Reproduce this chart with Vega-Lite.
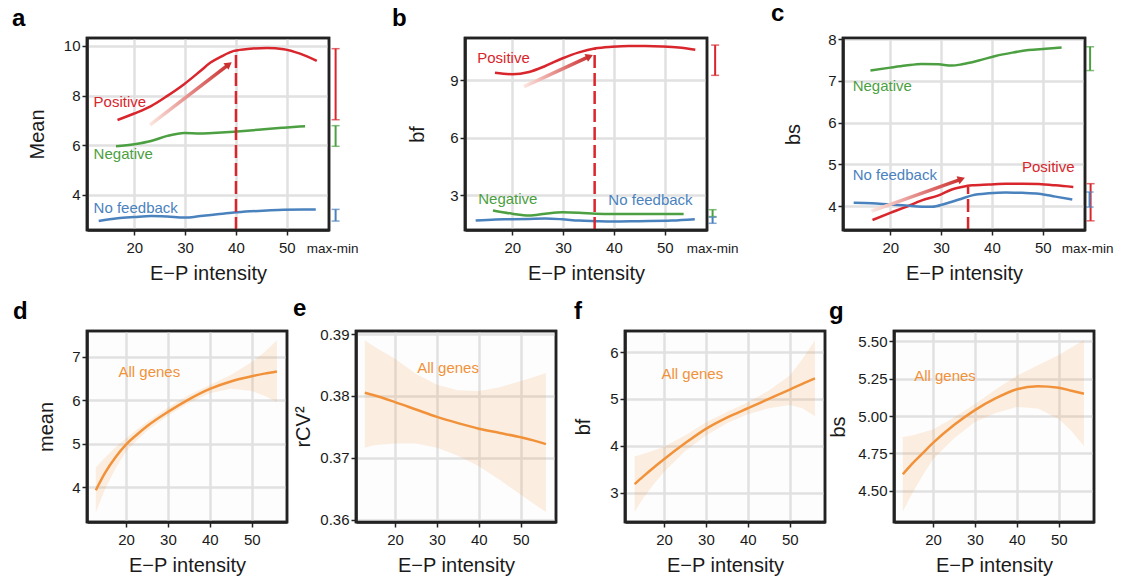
{
  "$schema": "https://vega.github.io/schema/vega-lite/v6.json",
  "padding": {"left": 10, "top": 1, "right": 0, "bottom": 0},
  "background": "white",
  "config": {
    "font": "Liberation Sans",
    "view": {"stroke": "#222222", "strokeWidth": 2.5},
    "axis": {
      "domain": true,
      "domainColor": "#222222",
      "domainWidth": 2.5,
      "grid": true,
      "gridColor": "#E1E1E1",
      "gridWidth": 2.5,
      "ticks": true,
      "tickColor": "#222222",
      "tickWidth": 1.5,
      "tickSize": 5,
      "labelFontSize": 15,
      "labelColor": "#1a1a1a",
      "labelPadding": 5,
      "titleFontSize": 20,
      "titleFontWeight": "normal",
      "titleColor": "#1a1a1a"
    },
    "axisX": {"titlePadding": 8, "labelFlush": false},
    "axisY": {"labelPadding": 2, "titleBaseline": "middle"},
    "title": {"fontSize": 24, "fontWeight": "bold", "anchor": "start", "frame": "group", "baseline": "alphabetic", "offset": 6, "color": "#000000"},
    "text": {"fontSize": 15, "align": "left", "baseline": "middle"}
  },
  "datasets": {
    "a_frame": [{"x1":10.7,"x2":58.3,"y1":2.59,"y2":10.32}],
    "b_frame": [{"x1":10.7,"x2":58.3,"y1":1.19,"y2":11.21}],
    "c_frame": [{"x1":10.7,"x2":58.3,"y1":3.43,"y2":8.03}],
    "d_frame": [{"x1":10.7,"x2":58.4,"y1":3.2,"y2":7.59}],
    "e_frame": [{"x1":10.7,"x2":58.4,"y1":0.3596,"y2":0.3905}],
    "f_frame": [{"x1":10.7,"x2":58.4,"y1":2.37,"y2":6.45}],
    "g_frame": [{"x1":10.7,"x2":58.4,"y1":4.29,"y2":5.57}],
    "a_lines": [
      {"x":16.7,"y":7.02,"g":"Positive"},{"x":20,"y":7.28,"g":"Positive"},{"x":23.3,"y":7.58,"g":"Positive"},{"x":26.5,"y":7.99,"g":"Positive"},{"x":29.8,"y":8.46,"g":"Positive"},{"x":33,"y":8.99,"g":"Positive"},{"x":35,"y":9.33,"g":"Positive"},{"x":37,"y":9.56,"g":"Positive"},{"x":39.6,"y":9.8,"g":"Positive"},{"x":42.8,"y":9.89,"g":"Positive"},{"x":46.1,"y":9.92,"g":"Positive"},{"x":49.4,"y":9.87,"g":"Positive"},{"x":52.6,"y":9.69,"g":"Positive"},{"x":55.9,"y":9.4,"g":"Positive"},
      {"x":16.4,"y":5.96,"g":"Negative"},{"x":20,"y":6.04,"g":"Negative"},{"x":23.3,"y":6.17,"g":"Negative"},{"x":26.5,"y":6.38,"g":"Negative"},{"x":29.8,"y":6.5,"g":"Negative"},{"x":33,"y":6.48,"g":"Negative"},{"x":36.3,"y":6.51,"g":"Negative"},{"x":39.6,"y":6.55,"g":"Negative"},{"x":42.8,"y":6.6,"g":"Negative"},{"x":46.1,"y":6.66,"g":"Negative"},{"x":49.4,"y":6.71,"g":"Negative"},{"x":53.6,"y":6.77,"g":"Negative"},
      {"x":13,"y":2.95,"g":"No feedback"},{"x":16.7,"y":3.06,"g":"No feedback"},{"x":20,"y":3.11,"g":"No feedback"},{"x":23.3,"y":3.15,"g":"No feedback"},{"x":26.5,"y":3.13,"g":"No feedback"},{"x":29.8,"y":3.09,"g":"No feedback"},{"x":33,"y":3.15,"g":"No feedback"},{"x":36.3,"y":3.22,"g":"No feedback"},{"x":39.6,"y":3.29,"g":"No feedback"},{"x":42.8,"y":3.34,"g":"No feedback"},{"x":46.1,"y":3.38,"g":"No feedback"},{"x":49.4,"y":3.41,"g":"No feedback"},{"x":55.7,"y":3.42,"g":"No feedback"}
    ],
    "a_text": [
      {"x":12,"y":7.74,"label":"Positive","g":"Positive"},
      {"x":12,"y":5.64,"label":"Negative","g":"Negative"},
      {"x":12,"y":3.49,"label":"No feedback","g":"No feedback"}
    ],
    "a_rng": [
      {"x":59.6,"lo":7.03,"hi":9.89,"g":"Positive"},
      {"x":59.6,"lo":5.96,"hi":6.79,"g":"Negative"},
      {"x":59.6,"lo":2.95,"hi":3.42,"g":"No feedback"}
    ],
    "a_dash": [{"x":40,"y1":2.59,"y2":9.83}],
    "a_arrow": [{"x":23.1,"y":6.82},{"x":38.6,"y":9.26}],
    "a_head": [{"x":38.6,"y":9.26}],
    "a_mm": [{"x":59,"y":2.59,"label":"max-min"}],

    "b_lines": [
      {"x":16.6,"y":9.4,"g":"Positive"},{"x":20,"y":9.32,"g":"Positive"},{"x":23.3,"y":9.44,"g":"Positive"},{"x":26.5,"y":9.75,"g":"Positive"},{"x":29.8,"y":10.14,"g":"Positive"},{"x":33.1,"y":10.46,"g":"Positive"},{"x":36.4,"y":10.67,"g":"Positive"},{"x":39.6,"y":10.75,"g":"Positive"},{"x":42.9,"y":10.79,"g":"Positive"},{"x":46.2,"y":10.79,"g":"Positive"},{"x":49.5,"y":10.77,"g":"Positive"},{"x":52.7,"y":10.72,"g":"Positive"},{"x":56,"y":10.6,"g":"Positive"},
      {"x":16.2,"y":2.21,"g":"Negative"},{"x":20,"y":2.04,"g":"Negative"},{"x":23.3,"y":1.95,"g":"Negative"},{"x":26.5,"y":2.04,"g":"Negative"},{"x":29.8,"y":2.11,"g":"Negative"},{"x":33.1,"y":2.09,"g":"Negative"},{"x":36.4,"y":2.04,"g":"Negative"},{"x":39.6,"y":2.02,"g":"Negative"},{"x":44.9,"y":2.02,"g":"Negative"},{"x":53.7,"y":2.02,"g":"Negative"},
      {"x":12.8,"y":1.68,"g":"No feedback"},{"x":16.7,"y":1.74,"g":"No feedback"},{"x":20,"y":1.75,"g":"No feedback"},{"x":23.3,"y":1.77,"g":"No feedback"},{"x":26.5,"y":1.79,"g":"No feedback"},{"x":29.8,"y":1.75,"g":"No feedback"},{"x":33.1,"y":1.68,"g":"No feedback"},{"x":36.4,"y":1.65,"g":"No feedback"},{"x":39.6,"y":1.63,"g":"No feedback"},{"x":44.9,"y":1.65,"g":"No feedback"},{"x":51.4,"y":1.68,"g":"No feedback"},{"x":55.9,"y":1.75,"g":"No feedback"}
    ],
    "b_text": [
      {"x":13.1,"y":10.19,"label":"Positive","g":"Positive"},
      {"x":13.3,"y":2.82,"label":"Negative","g":"Negative"},
      {"x":38.9,"y":2.74,"label":"No feedback","g":"No feedback"}
    ],
    "b_rng": [
      {"x":59.9,"lo":9.26,"hi":10.84,"g":"Positive"},
      {"x":59.4,"lo":1.89,"hi":2.25,"g":"Negative"},
      {"x":59.4,"lo":1.54,"hi":1.86,"g":"No feedback"}
    ],
    "b_dash": [{"x":36.2,"y1":1.19,"y2":10.67}],
    "b_arrow": [{"x":22.3,"y":8.67},{"x":35.2,"y":10.25}],
    "b_head": [{"x":35.2,"y":10.25}],
    "b_mm": [{"x":59.4,"y":1.19,"label":"max-min"}],

    "c_lines": [
      {"x":16.1,"y":7.25,"g":"Negative"},{"x":20,"y":7.32,"g":"Negative"},{"x":23,"y":7.37,"g":"Negative"},{"x":26.2,"y":7.41,"g":"Negative"},{"x":29.5,"y":7.4,"g":"Negative"},{"x":32.1,"y":7.37,"g":"Negative"},{"x":34.1,"y":7.4,"g":"Negative"},{"x":37.4,"y":7.49,"g":"Negative"},{"x":40.7,"y":7.6,"g":"Negative"},{"x":44,"y":7.68,"g":"Negative"},{"x":47.2,"y":7.74,"g":"Negative"},{"x":50.5,"y":7.77,"g":"Negative"},{"x":53.7,"y":7.8,"g":"Negative"},
      {"x":16.5,"y":3.67,"g":"Positive"},{"x":20,"y":3.84,"g":"Positive"},{"x":23,"y":3.98,"g":"Positive"},{"x":26.2,"y":4.14,"g":"Positive"},{"x":29.5,"y":4.26,"g":"Positive"},{"x":32.1,"y":4.4,"g":"Positive"},{"x":34.1,"y":4.46,"g":"Positive"},{"x":36.1,"y":4.5,"g":"Positive"},{"x":39.4,"y":4.52,"g":"Positive"},{"x":42.7,"y":4.54,"g":"Positive"},{"x":46,"y":4.54,"g":"Positive"},{"x":49.2,"y":4.53,"g":"Positive"},{"x":52.5,"y":4.5,"g":"Positive"},{"x":56,"y":4.46,"g":"Positive"},
      {"x":12.8,"y":4.08,"g":"No feedback"},{"x":16.4,"y":4.07,"g":"No feedback"},{"x":20,"y":4.04,"g":"No feedback"},{"x":23,"y":4.02,"g":"No feedback"},{"x":26.2,"y":3.99,"g":"No feedback"},{"x":28.2,"y":3.99,"g":"No feedback"},{"x":30.8,"y":4.06,"g":"No feedback"},{"x":33.5,"y":4.16,"g":"No feedback"},{"x":36.1,"y":4.26,"g":"No feedback"},{"x":39.4,"y":4.31,"g":"No feedback"},{"x":42.7,"y":4.33,"g":"No feedback"},{"x":45.9,"y":4.32,"g":"No feedback"},{"x":49.2,"y":4.3,"g":"No feedback"},{"x":52.5,"y":4.23,"g":"No feedback"},{"x":55.8,"y":4.16,"g":"No feedback"}
    ],
    "c_text": [
      {"x":12.6,"y":6.89,"label":"Negative","g":"Negative"},
      {"x":12.6,"y":4.74,"label":"No feedback","g":"No feedback"},
      {"x":45.9,"y":4.94,"label":"Positive","g":"Positive"}
    ],
    "c_rng": [
      {"x":59.3,"lo":7.25,"hi":7.82,"g":"Negative"},
      {"x":59.4,"lo":3.65,"hi":4.54,"g":"Positive"},
      {"x":59.2,"lo":3.98,"hi":4.34,"g":"No feedback"}
    ],
    "c_dash": [{"x":35.3,"y1":3.43,"y2":4.46}],
    "c_arrow": [{"x":16.3,"y":3.88},{"x":34.0,"y":4.65}],
    "c_head": [{"x":34.0,"y":4.65}],
    "c_mm": [{"x":58.8,"y":3.43,"label":"max-min"}],

    "d_fit": [
      {"x":12.8,"y":3.93,"lo":3.42,"hi":4.45},{"x":15,"y":4.33,"lo":3.95,"hi":4.68},{"x":17.5,"y":4.69,"lo":4.43,"hi":4.92},{"x":20,"y":4.98,"lo":4.82,"hi":5.12},{"x":22.5,"y":5.2,"lo":5.07,"hi":5.32},{"x":25,"y":5.4,"lo":5.3,"hi":5.5},{"x":30,"y":5.73,"lo":5.64,"hi":5.83},{"x":35,"y":6.02,"lo":5.94,"hi":6.12},{"x":40,"y":6.26,"lo":6.16,"hi":6.35},{"x":45,"y":6.43,"lo":6.26,"hi":6.58},{"x":50,"y":6.55,"lo":6.21,"hi":6.88},{"x":53,"y":6.61,"lo":6.1,"hi":7.1},{"x":56,"y":6.66,"lo":5.96,"hi":7.38}
    ],
    "d_text": [{"x":18.2,"y":6.65,"label":"All genes"}],
    "e_fit": [
      {"x":12.8,"y":0.3805,"lo":0.3716,"hi":0.389},{"x":15,"y":0.3801,"lo":0.372,"hi":0.388},{"x":20,"y":0.379,"lo":0.3723,"hi":0.386},{"x":25,"y":0.3778,"lo":0.3723,"hi":0.3836},{"x":30,"y":0.3766,"lo":0.3716,"hi":0.3818},{"x":35,"y":0.3756,"lo":0.3703,"hi":0.3809},{"x":40,"y":0.3747,"lo":0.3686,"hi":0.3808},{"x":45,"y":0.374,"lo":0.3664,"hi":0.3814},{"x":50,"y":0.3733,"lo":0.364,"hi":0.3824},{"x":53,"y":0.3728,"lo":0.3626,"hi":0.383},{"x":56,"y":0.3722,"lo":0.3612,"hi":0.3837}
    ],
    "e_text": [{"x":25.3,"y":0.3845,"label":"All genes"}],
    "f_fit": [
      {"x":13,"y":3.18,"lo":2.59,"hi":3.77},{"x":15,"y":3.34,"lo":2.87,"hi":3.82},{"x":17.5,"y":3.53,"lo":3.17,"hi":3.9},{"x":20,"y":3.71,"lo":3.44,"hi":3.98},{"x":25,"y":4.05,"lo":3.88,"hi":4.22},{"x":30,"y":4.36,"lo":4.22,"hi":4.5},{"x":35,"y":4.6,"lo":4.48,"hi":4.72},{"x":40,"y":4.8,"lo":4.67,"hi":4.93},{"x":45,"y":5.0,"lo":4.8,"hi":5.18},{"x":50,"y":5.2,"lo":4.87,"hi":5.5},{"x":53,"y":5.32,"lo":4.8,"hi":5.85},{"x":56,"y":5.44,"lo":4.63,"hi":6.25}
    ],
    "f_text": [{"x":19.4,"y":5.53,"label":"All genes"}],
    "g_fit": [
      {"x":12.8,"y":4.61,"lo":4.36,"hi":4.86},{"x":15,"y":4.68,"lo":4.48,"hi":4.87},{"x":17.5,"y":4.75,"lo":4.6,"hi":4.89},{"x":20,"y":4.82,"lo":4.71,"hi":4.91},{"x":25,"y":4.94,"lo":4.85,"hi":4.99},{"x":30,"y":5.04,"lo":4.96,"hi":5.08},{"x":35,"y":5.12,"lo":5.02,"hi":5.18},{"x":40,"y":5.18,"lo":5.06,"hi":5.27},{"x":45,"y":5.2,"lo":5.05,"hi":5.34},{"x":50,"y":5.19,"lo":4.98,"hi":5.41},{"x":53,"y":5.17,"lo":4.9,"hi":5.46},{"x":56,"y":5.15,"lo":4.8,"hi":5.51}
    ],
    "g_text": [{"x":15.5,"y":5.27,"label":"All genes"}]
  },
  "vconcat": [
    {
      "hconcat": [
        {
          "width": 242, "height": 192,
          "title": {"text": "a", "dx": -75},
          "layer": [
            {"data": {"name": "a_lines"}, "mark": {"type": "line", "strokeWidth": 2.5, "interpolate": "monotone"},
             "encoding": {
               "x": {"field": "x", "type": "quantitative", "scale": {"domain": [10.7, 58.3], "nice": false, "zero": false}, "axis": {"title": "E−P intensity", "values": [20, 30, 40, 50]}},
               "y": {"field": "y", "type": "quantitative", "scale": {"domain": [2.59, 10.32], "nice": false, "zero": false}, "axis": {"title": "Mean", "values": [4, 6, 8, 10], "titleX": -50}},
               "color": {"field": "g", "type": "nominal", "scale": {"domain": ["Positive", "Negative", "No feedback"], "range": ["#D8262C", "#4CA042", "#4A82BE"]}, "legend": null}}},
            {"data": {"name": "a_dash"}, "mark": {"type": "rule", "color": "#D8262C", "strokeWidth": 2.5, "strokeDash": [13, 5]},
             "encoding": {"x": {"field": "x", "type": "quantitative"}, "y": {"field": "y1", "type": "quantitative"}, "y2": {"field": "y2"}}},
            {"data": {"name": "a_arrow"}, "mark": {"type": "line", "strokeWidth": 3.5, "stroke": {"gradient": "linear", "x1": 0, "y1": 0, "x2": 1, "y2": 0, "stops": [{"offset": 0, "color": "#FCE6E0"}, {"offset": 1, "color": "#CC3030"}]}},
             "encoding": {"x": {"field": "x", "type": "quantitative"}, "y": {"field": "y", "type": "quantitative"}}},
            {"data": {"name": "a_head"}, "mark": {"type": "point", "shape": "triangle-up", "angle": 52.6, "size": 70, "filled": true, "opacity": 1, "color": "#CC3030"},
             "encoding": {"x": {"field": "x", "type": "quantitative"}, "y": {"field": "y", "type": "quantitative"}}},
            {"data": {"name": "a_text"}, "mark": {"type": "text"},
             "encoding": {"x": {"field": "x", "type": "quantitative"}, "y": {"field": "y", "type": "quantitative"}, "text": {"field": "label"}, "color": {"field": "g", "type": "nominal", "legend": null}}},
            {"data": {"name": "a_rng"}, "mark": {"type": "rule", "strokeWidth": 2},
             "encoding": {"x": {"field": "x", "type": "quantitative"}, "y": {"field": "lo", "type": "quantitative"}, "y2": {"field": "hi"}, "color": {"field": "g", "type": "nominal", "legend": null}}},
            {"data": {"name": "a_rng"}, "transform": [{"fold": ["lo", "hi"], "as": ["end", "v"]}], "mark": {"type": "tick", "orient": "horizontal", "size": 8, "thickness": 1.5},
             "encoding": {"x": {"field": "x", "type": "quantitative"}, "y": {"field": "v", "type": "quantitative"}, "color": {"field": "g", "type": "nominal", "legend": null}}},
            {"data": {"name": "a_mm"}, "mark": {"type": "text", "align": "center", "fontSize": 13.5, "dy": 19, "color": "#1a1a1a"},
             "encoding": {"x": {"field": "x", "type": "quantitative"}, "y": {"field": "y", "type": "quantitative"}, "text": {"field": "label"}}},
            {"data": {"name": "a_frame"}, "mark": {"type": "rect", "fillOpacity": 0, "stroke": "#222222", "strokeWidth": 2.5},
             "encoding": {"x": {"field": "x1", "type": "quantitative"}, "x2": {"field": "x2"}, "y": {"field": "y1", "type": "quantitative"}, "y2": {"field": "y2"}}}
          ]
        },
        {
          "width": 242, "height": 192,
          "title": {"text": "b", "dx": -73},
          "layer": [
            {"data": {"name": "b_lines"}, "mark": {"type": "line", "strokeWidth": 2.5, "interpolate": "monotone"},
             "encoding": {
               "x": {"field": "x", "type": "quantitative", "scale": {"domain": [10.7, 58.3], "nice": false, "zero": false}, "axis": {"title": "E−P intensity", "values": [20, 30, 40, 50]}},
               "y": {"field": "y", "type": "quantitative", "scale": {"domain": [1.19, 11.21], "nice": false, "zero": false}, "axis": {"title": "bf", "values": [3, 6, 9], "titleX": -48}},
               "color": {"field": "g", "type": "nominal", "scale": {"domain": ["Positive", "Negative", "No feedback"], "range": ["#D8262C", "#4CA042", "#4A82BE"]}, "legend": null}}},
            {"data": {"name": "b_dash"}, "mark": {"type": "rule", "color": "#D8262C", "strokeWidth": 2.5, "strokeDash": [13, 5]},
             "encoding": {"x": {"field": "x", "type": "quantitative"}, "y": {"field": "y1", "type": "quantitative"}, "y2": {"field": "y2"}}},
            {"data": {"name": "b_arrow"}, "mark": {"type": "line", "strokeWidth": 3.5, "stroke": {"gradient": "linear", "x1": 0, "y1": 0, "x2": 1, "y2": 0, "stops": [{"offset": 0, "color": "#FCE6E0"}, {"offset": 1, "color": "#CC3030"}]}},
             "encoding": {"x": {"field": "x", "type": "quantitative"}, "y": {"field": "y", "type": "quantitative"}}},
            {"data": {"name": "b_head"}, "mark": {"type": "point", "shape": "triangle-up", "angle": 65.5, "size": 70, "filled": true, "opacity": 1, "color": "#CC3030"},
             "encoding": {"x": {"field": "x", "type": "quantitative"}, "y": {"field": "y", "type": "quantitative"}}},
            {"data": {"name": "b_text"}, "mark": {"type": "text"},
             "encoding": {"x": {"field": "x", "type": "quantitative"}, "y": {"field": "y", "type": "quantitative"}, "text": {"field": "label"}, "color": {"field": "g", "type": "nominal", "legend": null}}},
            {"data": {"name": "b_rng"}, "mark": {"type": "rule", "strokeWidth": 2},
             "encoding": {"x": {"field": "x", "type": "quantitative"}, "y": {"field": "lo", "type": "quantitative"}, "y2": {"field": "hi"}, "color": {"field": "g", "type": "nominal", "legend": null}}},
            {"data": {"name": "b_rng"}, "transform": [{"fold": ["lo", "hi"], "as": ["end", "v"]}], "mark": {"type": "tick", "orient": "horizontal", "size": 8, "thickness": 1.5},
             "encoding": {"x": {"field": "x", "type": "quantitative"}, "y": {"field": "v", "type": "quantitative"}, "color": {"field": "g", "type": "nominal", "legend": null}}},
            {"data": {"name": "b_mm"}, "mark": {"type": "text", "align": "center", "fontSize": 13.5, "dy": 19, "color": "#1a1a1a"},
             "encoding": {"x": {"field": "x", "type": "quantitative"}, "y": {"field": "y", "type": "quantitative"}, "text": {"field": "label"}}},
            {"data": {"name": "b_frame"}, "mark": {"type": "rect", "fillOpacity": 0, "stroke": "#222222", "strokeWidth": 2.5},
             "encoding": {"x": {"field": "x1", "type": "quantitative"}, "x2": {"field": "x2"}, "y": {"field": "y1", "type": "quantitative"}, "y2": {"field": "y2"}}}
          ]
        },
        {
          "width": 242, "height": 192,
          "title": {"text": "c", "dx": -72},
          "layer": [
            {"data": {"name": "c_lines"}, "mark": {"type": "line", "strokeWidth": 2.5, "interpolate": "monotone"},
             "encoding": {
               "x": {"field": "x", "type": "quantitative", "scale": {"domain": [10.7, 58.3], "nice": false, "zero": false}, "axis": {"title": "E−P intensity", "values": [20, 30, 40, 50]}},
               "y": {"field": "y", "type": "quantitative", "scale": {"domain": [3.43, 8.03], "nice": false, "zero": false}, "axis": {"title": "bs", "values": [4, 5, 6, 7, 8], "titleX": -50}},
               "color": {"field": "g", "type": "nominal", "scale": {"domain": ["Positive", "Negative", "No feedback"], "range": ["#D8262C", "#4CA042", "#4A82BE"]}, "legend": null}}},
            {"data": {"name": "c_dash"}, "mark": {"type": "rule", "color": "#D8262C", "strokeWidth": 2.5, "strokeDash": [13, 5]},
             "encoding": {"x": {"field": "x", "type": "quantitative"}, "y": {"field": "y1", "type": "quantitative"}, "y2": {"field": "y2"}}},
            {"data": {"name": "c_arrow"}, "mark": {"type": "line", "strokeWidth": 3.5, "stroke": {"gradient": "linear", "x1": 0, "y1": 0, "x2": 1, "y2": 0, "stops": [{"offset": 0, "color": "#FCE6E0"}, {"offset": 1, "color": "#CC3030"}]}},
             "encoding": {"x": {"field": "x", "type": "quantitative"}, "y": {"field": "y", "type": "quantitative"}}},
            {"data": {"name": "c_head"}, "mark": {"type": "point", "shape": "triangle-up", "angle": 70.4, "size": 70, "filled": true, "opacity": 1, "color": "#CC3030"},
             "encoding": {"x": {"field": "x", "type": "quantitative"}, "y": {"field": "y", "type": "quantitative"}}},
            {"data": {"name": "c_text"}, "mark": {"type": "text"},
             "encoding": {"x": {"field": "x", "type": "quantitative"}, "y": {"field": "y", "type": "quantitative"}, "text": {"field": "label"}, "color": {"field": "g", "type": "nominal", "legend": null}}},
            {"data": {"name": "c_rng"}, "mark": {"type": "rule", "strokeWidth": 2},
             "encoding": {"x": {"field": "x", "type": "quantitative"}, "y": {"field": "lo", "type": "quantitative"}, "y2": {"field": "hi"}, "color": {"field": "g", "type": "nominal", "legend": null}}},
            {"data": {"name": "c_rng"}, "transform": [{"fold": ["lo", "hi"], "as": ["end", "v"]}], "mark": {"type": "tick", "orient": "horizontal", "size": 8, "thickness": 1.5},
             "encoding": {"x": {"field": "x", "type": "quantitative"}, "y": {"field": "v", "type": "quantitative"}, "color": {"field": "g", "type": "nominal", "legend": null}}},
            {"data": {"name": "c_mm"}, "mark": {"type": "text", "align": "center", "fontSize": 13.5, "dy": 19, "color": "#1a1a1a"},
             "encoding": {"x": {"field": "x", "type": "quantitative"}, "y": {"field": "y", "type": "quantitative"}, "text": {"field": "label"}}},
            {"data": {"name": "c_frame"}, "mark": {"type": "rect", "fillOpacity": 0, "stroke": "#222222", "strokeWidth": 2.5},
             "encoding": {"x": {"field": "x1", "type": "quantitative"}, "x2": {"field": "x2"}, "y": {"field": "y1", "type": "quantitative"}, "y2": {"field": "y2"}}}
          ]
        }
      ],
      "spacing": 136,
      "bounds": "flush"
    },
    {
      "hconcat": [
        {
          "width": 200, "height": 191,
          "title": {"text": "d", "dx": -74},
          "view": {"fill": "#FDFDFD", "stroke": "#222222", "strokeWidth": 2.5},
          "layer": [
            {"data": {"name": "d_fit"}, "mark": {"type": "area", "color": "#F1923A", "opacity": 0.14},
             "encoding": {
               "x": {"field": "x", "type": "quantitative", "scale": {"domain": [10.7, 58.4], "nice": false, "zero": false}, "axis": {"title": "E−P intensity", "values": [20, 30, 40, 50]}},
               "y": {"field": "lo", "type": "quantitative", "scale": {"domain": [3.2, 7.59], "nice": false, "zero": false}, "axis": {"title": "mean", "values": [4, 5, 6, 7], "titleX": -41}},
               "y2": {"field": "hi"}}},
            {"data": {"name": "d_fit"}, "mark": {"type": "line", "color": "#F1923A", "strokeWidth": 2.5, "interpolate": "monotone"},
             "encoding": {"x": {"field": "x", "type": "quantitative"}, "y": {"field": "y", "type": "quantitative"}}},
            {"data": {"name": "d_text"}, "mark": {"type": "text", "color": "#F1923A"},
             "encoding": {"x": {"field": "x", "type": "quantitative"}, "y": {"field": "y", "type": "quantitative"}, "text": {"field": "label"}}},
            {"data": {"name": "d_frame"}, "mark": {"type": "rect", "fillOpacity": 0, "stroke": "#222222", "strokeWidth": 2.5},
             "encoding": {"x": {"field": "x1", "type": "quantitative"}, "x2": {"field": "x2"}, "y": {"field": "y1", "type": "quantitative"}, "y2": {"field": "y2"}}}
          ]
        },
        {
          "width": 200, "height": 191,
          "title": {"text": "e", "dx": -63},
          "view": {"fill": "#FDFDFD", "stroke": "#222222", "strokeWidth": 2.5},
          "layer": [
            {"data": {"name": "e_fit"}, "mark": {"type": "area", "color": "#F1923A", "opacity": 0.14},
             "encoding": {
               "x": {"field": "x", "type": "quantitative", "scale": {"domain": [10.7, 58.4], "nice": false, "zero": false}, "axis": {"title": "E−P intensity", "values": [20, 30, 40, 50]}},
               "y": {"field": "lo", "type": "quantitative", "scale": {"domain": [0.3596, 0.3905], "nice": false, "zero": false}, "axis": {"title": "rCV²", "values": [0.36, 0.37, 0.38, 0.39], "format": ".2f", "titleX": -53}},
               "y2": {"field": "hi"}}},
            {"data": {"name": "e_fit"}, "mark": {"type": "line", "color": "#F1923A", "strokeWidth": 2.5, "interpolate": "monotone"},
             "encoding": {"x": {"field": "x", "type": "quantitative"}, "y": {"field": "y", "type": "quantitative"}}},
            {"data": {"name": "e_text"}, "mark": {"type": "text", "color": "#F1923A"},
             "encoding": {"x": {"field": "x", "type": "quantitative"}, "y": {"field": "y", "type": "quantitative"}, "text": {"field": "label"}}},
            {"data": {"name": "e_frame"}, "mark": {"type": "rect", "fillOpacity": 0, "stroke": "#222222", "strokeWidth": 2.5},
             "encoding": {"x": {"field": "x1", "type": "quantitative"}, "x2": {"field": "x2"}, "y": {"field": "y1", "type": "quantitative"}, "y2": {"field": "y2"}}}
          ]
        },
        {
          "width": 200, "height": 191,
          "title": {"text": "f", "dx": -51},
          "view": {"fill": "#FDFDFD", "stroke": "#222222", "strokeWidth": 2.5},
          "layer": [
            {"data": {"name": "f_fit"}, "mark": {"type": "area", "color": "#F1923A", "opacity": 0.14},
             "encoding": {
               "x": {"field": "x", "type": "quantitative", "scale": {"domain": [10.7, 58.4], "nice": false, "zero": false}, "axis": {"title": "E−P intensity", "values": [20, 30, 40, 50]}},
               "y": {"field": "lo", "type": "quantitative", "scale": {"domain": [2.37, 6.45], "nice": false, "zero": false}, "axis": {"title": "bf", "values": [3, 4, 5, 6], "titleX": -42}},
               "y2": {"field": "hi"}}},
            {"data": {"name": "f_fit"}, "mark": {"type": "line", "color": "#F1923A", "strokeWidth": 2.5, "interpolate": "monotone"},
             "encoding": {"x": {"field": "x", "type": "quantitative"}, "y": {"field": "y", "type": "quantitative"}}},
            {"data": {"name": "f_text"}, "mark": {"type": "text", "color": "#F1923A"},
             "encoding": {"x": {"field": "x", "type": "quantitative"}, "y": {"field": "y", "type": "quantitative"}, "text": {"field": "label"}}},
            {"data": {"name": "f_frame"}, "mark": {"type": "rect", "fillOpacity": 0, "stroke": "#222222", "strokeWidth": 2.5},
             "encoding": {"x": {"field": "x1", "type": "quantitative"}, "x2": {"field": "x2"}, "y": {"field": "y1", "type": "quantitative"}, "y2": {"field": "y2"}}}
          ]
        },
        {
          "width": 200, "height": 191,
          "title": {"text": "g", "dx": -65},
          "view": {"fill": "#FDFDFD", "stroke": "#222222", "strokeWidth": 2.5},
          "layer": [
            {"data": {"name": "g_fit"}, "mark": {"type": "area", "color": "#F1923A", "opacity": 0.14},
             "encoding": {
               "x": {"field": "x", "type": "quantitative", "scale": {"domain": [10.7, 58.4], "nice": false, "zero": false}, "axis": {"title": "E−P intensity", "values": [20, 30, 40, 50]}},
               "y": {"field": "lo", "type": "quantitative", "scale": {"domain": [4.29, 5.57], "nice": false, "zero": false}, "axis": {"title": "bs", "values": [4.5, 4.75, 5, 5.25, 5.5], "format": ".2f", "titleX": -56}},
               "y2": {"field": "hi"}}},
            {"data": {"name": "g_fit"}, "mark": {"type": "line", "color": "#F1923A", "strokeWidth": 2.5, "interpolate": "monotone"},
             "encoding": {"x": {"field": "x", "type": "quantitative"}, "y": {"field": "y", "type": "quantitative"}}},
            {"data": {"name": "g_text"}, "mark": {"type": "text", "color": "#F1923A"},
             "encoding": {"x": {"field": "x", "type": "quantitative"}, "y": {"field": "y", "type": "quantitative"}, "text": {"field": "label"}}},
            {"data": {"name": "g_frame"}, "mark": {"type": "rect", "fillOpacity": 0, "stroke": "#222222", "strokeWidth": 2.5},
             "encoding": {"x": {"field": "x1", "type": "quantitative"}, "x2": {"field": "x2"}, "y": {"field": "y1", "type": "quantitative"}, "y2": {"field": "y2"}}}
          ]
        }
      ],
      "spacing": 69,
      "bounds": "flush"
    }
  ],
  "spacing": 10
}
